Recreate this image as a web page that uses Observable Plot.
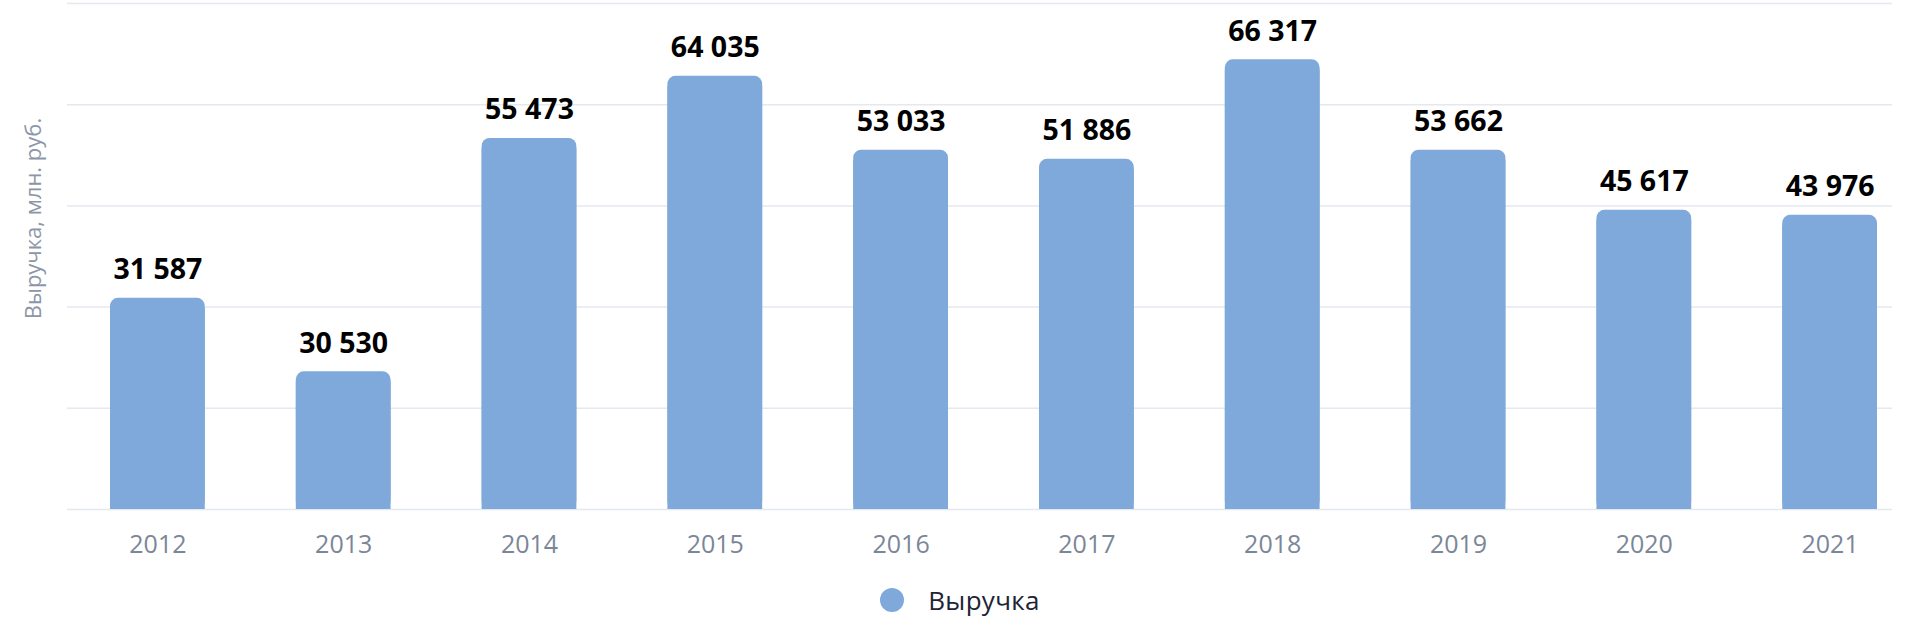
<!DOCTYPE html>
<html>
<head>
<meta charset="utf-8">
<script src="https://cdn.jsdelivr.net/npm/d3@7"></script>
<script src="https://cdn.jsdelivr.net/npm/@observablehq/plot@0.6"></script>
<style>
  html, body { margin: 0; padding: 0; background: #ffffff; }
  body { width: 1920px; height: 640px; overflow: hidden; font-family: "Open Sans", sans-serif; }
  #legend { height: 60px; display: flex; align-items: center; justify-content: center; }
  #legend .sw { width: 24px; height: 24px; border-radius: 50%; background: #7fa9da; margin-right: 24px; }
  #legend .lb { font-size: 26px; color: #1e2435; line-height: 1; letter-spacing: 0.3px; }
</style>
</head>
<body>
<div id="chart"></div>
<div id="legend"></div>
<script>
const years = ["2012", "2013", "2014", "2015", "2016", "2017", "2018", "2019", "2020", "2021"];
// values printed above the bars
const labelValues = [31587, 30530, 55473, 64035, 53033, 51886, 66317, 53662, 45617, 43976];
// bar heights
const barValues = [31300, 20400, 55000, 64200, 53250, 51900, 66650, 53250, 44350, 43600];
const gridTicks = [0, 15000, 30000, 45000, 60000, 75000];
const seriesName = "Выручка";
const yAxisLabel = "Выручка, млн. руб.";
const barColor = "#7fa9da";

const data = years.map((year, i) => ({ year, value: barValues[i], label: labelValues[i] }));
const fmt = d3.formatLocale({ thousands: " ", grouping: [3], decimal: "," }).format(",d");

const chart = Plot.plot({
  width: 1920,
  height: 570,
  marginTop: 3,
  marginBottom: 61,
  marginLeft: 67,
  marginRight: 28,
  style: { fontFamily: "'Open Sans', sans-serif", background: "#ffffff", overflow: "visible" },
  x: { type: "band", domain: years, range: [110, 1877], paddingInner: 0.49, paddingOuter: 0, round: false, label: null },
  y: { domain: [0, 75000], axis: null, label: null },
  marks: [
    Plot.ruleY(gridTicks, { stroke: "#e4e8ef", strokeWidth: 1.5 }),
    Plot.barY(data, { x: "year", y: "value", fill: barColor, rx: 8 }),
    // square off the bottom corners (covers everything below the rounded top)
    Plot.barY(data, { x: "year", y1: 0, y2: d => d.value - 1500, fill: barColor }),
    Plot.text(data, {
      x: "year", y: "value", text: d => fmt(d.label),
      dy: -19, lineAnchor: "bottom", fontSize: 28.5, fontWeight: 700,
      fill: "#000000", style: "letter-spacing:2px"
    }),
    Plot.axisX({ tickSize: 0, tickPadding: 26, fontSize: 25, color: "#7b8698", label: null }),
    Plot.text([yAxisLabel], {
      frameAnchor: "left", rotate: -90, dx: -34, dy: -38,
      textAnchor: "middle", lineAnchor: "middle", fontSize: 22, fill: "#8c96a8"
    })
  ]
});
document.getElementById("chart").appendChild(chart);

const legend = document.getElementById("legend");
const sw = document.createElement("div"); sw.className = "sw";
const lb = document.createElement("span"); lb.className = "lb"; lb.textContent = seriesName;
legend.appendChild(sw); legend.appendChild(lb);
</script>
</body>
</html>
